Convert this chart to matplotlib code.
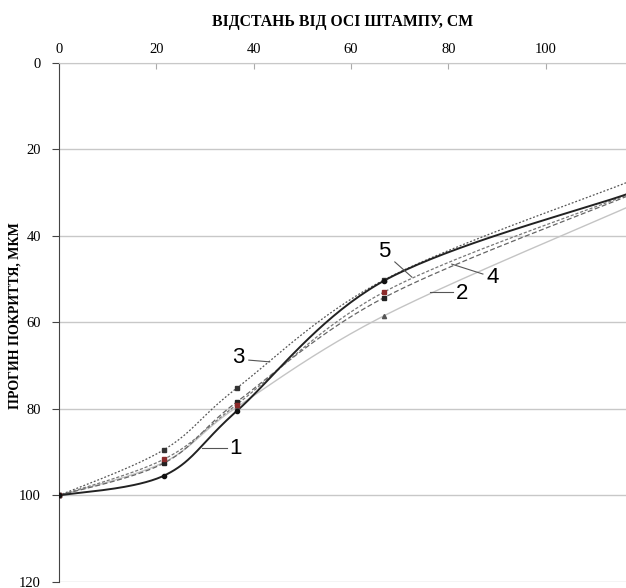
#!/usr/bin/env python3

import numpy as np
import matplotlib
matplotlib.use("Agg")
import matplotlib.pyplot as plt

# distance from the stamp axis, cm
x_pts = [0, 21.6, 36.5, 66.7, 116.5]

# deflection, mkm (one list per curve)
curve1 = [100, 95.4, 80.5, 50.4, 30.4]
curve2 = [100, 92.3, 79.6, 58.5, 33.5]
curve3 = [100, 89.4, 75.2, 50.2, 27.7]
curve4 = [100, 92.5, 78.4, 54.3, 30.9]
curve5 = [100, 91.6, 79.0, 53.0, 30.6]

x_ticks = [0, 20, 40, 60, 80, 100]
y_ticks = [0, 20, 40, 60, 80, 100, 120]


def smooth(xs, ys, n=40):
    # excel-like smoothed line: cubic bezier through the points
    P = np.column_stack([xs, ys]).astype(float)
    out = []
    for i in range(len(P) - 1):
        p0 = P[i - 1] if i > 0 else P[i]
        p1, p2 = P[i], P[i + 1]
        p3 = P[i + 2] if i + 2 < len(P) else P[i + 1]
        c1 = p1 + (p2 - p0) / 6
        c2 = p2 - (p3 - p1) / 6
        t = np.linspace(0, 1, n)[:, None]
        seg = ((1 - t) ** 3) * p1 + 3 * ((1 - t) ** 2) * t * c1 + 3 * (1 - t) * t ** 2 * c2 + t ** 3 * p2
        out.append(seg if i == 0 else seg[1:])
    seg = np.vstack(out)
    return seg[:, 0], seg[:, 1]


plt.rcParams["font.family"] = "Liberation Serif"

fig = plt.figure(figsize=(6.26, 5.88), dpi=100)
ax = fig.add_axes([0.0942, 0.0102, 0.9058, 0.8827])

styles = [
    (curve2, dict(color="#c4c4c4", lw=1.0, ls="-"), dict(marker="^", color="#555555")),
    (curve3, dict(color="#555555", lw=0.9, ls=(0, (1.5, 1.5))), dict(marker="s", color="#333333")),
    (curve4, dict(color="#666666", lw=0.9, ls=(0, (4, 2))), dict(marker="s", color="#222222")),
    (curve5, dict(color="#777777", lw=0.9, ls=(0, (2.5, 1.5))), dict(marker="s", color="#8b2a2a")),
    (curve1, dict(color="#222222", lw=1.4, ls="-"), dict(marker="o", color="#111111")),
]
for ys, lstyle, mstyle in styles:
    sx, sy = smooth(x_pts, ys)
    ax.plot(sx, sy, zorder=3, **lstyle)
    ax.plot(x_pts[:-1], ys[:-1], lw=0, ms=3, zorder=4, **mstyle)

ax.set_xlim(0, 116.5)
ax.set_ylim(120, 0)
ax.xaxis.tick_top()
ax.xaxis.set_label_position("top")
ax.set_xticks(x_ticks)
ax.set_yticks(y_ticks)
ax.tick_params(axis="x", labelsize=10.5, direction="in", length=4, color="#aaaaaa", pad=5)
ax.tick_params(axis="y", labelsize=10.5, direction="out", length=5, color="#444444", pad=8)
ax.yaxis.grid(True, color="#c8c8c8", lw=1)
ax.set_axisbelow(True)
for s in ["right", "bottom"]:
    ax.spines[s].set_visible(False)
ax.spines["top"].set_color("#c8c8c8")
ax.spines["left"].set_color("#444444")

ax.set_xlabel("ВІДСТАНЬ ВІД ОСІ ШТАМПУ, СМ", fontsize=11.3, fontweight="bold", labelpad=12)
ax.set_ylabel("ПРОГИН ПОКРИТТЯ, МКМ", fontsize=10.1, fontweight="bold")
ax.yaxis.set_label_coords(-0.066, 0.514)

# curve labels with leader lines
labels = [
    ("1", (36.3, 89.2), (29.4, 89.0), (34.5, 89.0)),
    ("2", (82.8, 53.2), (76.2, 53.0), (80.9, 53.0)),
    ("3", (36.8, 68.0), (39.0, 68.7), (43.3, 69.1)),
    ("4", (89.1, 49.7), (87.1, 48.8), (80.7, 46.5)),
    ("5", (66.9, 43.7), (69.0, 46.0), (72.5, 49.5)),
]
for txt, pos, a, b in labels:
    ax.plot([a[0], b[0]], [a[1], b[1]], color="#555555", lw=0.8, zorder=5)
    ax.text(pos[0], pos[1], txt, fontsize=16, family="Liberation Sans",
            ha="center", va="center", zorder=6)

fig.savefig("out.png", dpi=100)
